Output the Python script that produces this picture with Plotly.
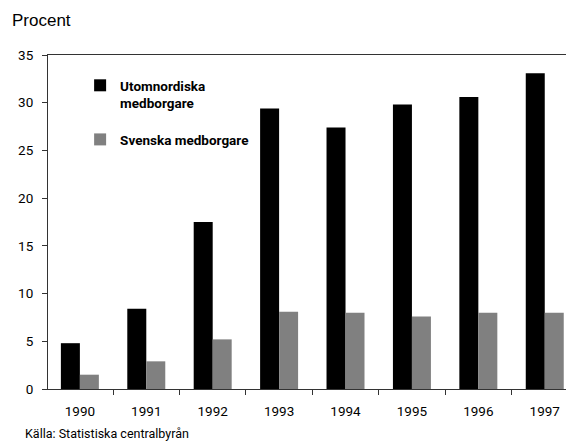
import plotly.graph_objects as go

years = ["1990", "1991", "1992", "1993", "1994", "1995", "1996", "1997"]
utomnordiska = [4.8, 8.4, 17.5, 29.4, 27.4, 29.8, 30.6, 33.1]
svenska = [1.5, 2.9, 5.2, 8.1, 8.0, 7.6, 8.0, 8.0]
y_ticks = [0, 5, 10, 15, 20, 25, 30, 35]

NARROW = "Roboto, Liberation Sans, sans-serif"

fig = go.Figure()
fig.add_trace(go.Bar(
    x=years, y=utomnordiska, name="<b>Utomnordiska<br>medborgare</b>",
    marker=dict(color="#000000", line=dict(width=0)),
    legendgroup="a",
))
fig.add_trace(go.Bar(
    x=years, y=svenska, name="<b>Svenska medborgare</b>",
    marker=dict(color="#808080", line=dict(width=0)),
    legendgroup="b",
))

fig.update_layout(
    width=567, height=441,
    margin=dict(l=48, r=1, t=55, b=51.5, pad=0, autoexpand=False),
    paper_bgcolor="white", plot_bgcolor="white",
    barmode="group", bargap=0.428, bargroupgap=0,
    font=dict(family=NARROW, size=13, color="#000000"),
    showlegend=True,
    legend=dict(
        x=0.062, y=0.955, xanchor="left", yanchor="top",
        bgcolor="rgba(0,0,0,0)", borderwidth=0,
        font=dict(family=NARROW, size=13.5, color="#000000"),
        traceorder="grouped", tracegroupgap=16, valign="top",
    ),
    xaxis=dict(
        type="category", range=[-0.48, 7.32],
        tickson="boundaries", ticks="outside", ticklen=5, tickwidth=1,
        tickcolor="#333333", showline=True, linecolor="#333333", linewidth=1,
        mirror=True, showgrid=False, zeroline=False,
        tickfont=dict(family=NARROW, size=13.5),
        ticklabelstandoff=10,
    ),
    xaxis2=dict(
        overlaying="x", anchor="y", range=[-0.48, 7.32],
        tickvals=[0.5, 1.5, 2.5, 3.5, 4.5, 5.5, 6.5],
        ticks="inside", ticklen=4, tickwidth=1, tickcolor="#333333",
        showticklabels=False, showline=False, showgrid=False, zeroline=False,
        side="bottom",
    ),
    yaxis=dict(
        range=[0, 35], tickvals=y_ticks, ticktext=[str(v) for v in y_ticks],
        ticks="outside", ticklen=5, tickwidth=1, tickcolor="#333333",
        showline=True, linecolor="#333333", linewidth=1,
        showgrid=False, zeroline=False,
        tickfont=dict(family=NARROW, size=13.5),
        ticklabelstandoff=6,
    ),
    annotations=[
        dict(text="Procent", xref="paper", yref="paper", x=-0.0734, y=1.1036,
             xanchor="left", yanchor="middle", showarrow=False,
             font=dict(family="Liberation Sans, Arial, sans-serif", size=17)),
        dict(text="Källa: Statistiska centralbyrån", xref="paper", yref="paper",
             x=-0.0488, y=-0.132, xanchor="left", yanchor="middle", showarrow=False,
             font=dict(family=NARROW, size=12.5)),
    ],
)

fig.write_html("out.html", config={"displayModeBar": False},
               post_script="document.body.style.margin='0';")
